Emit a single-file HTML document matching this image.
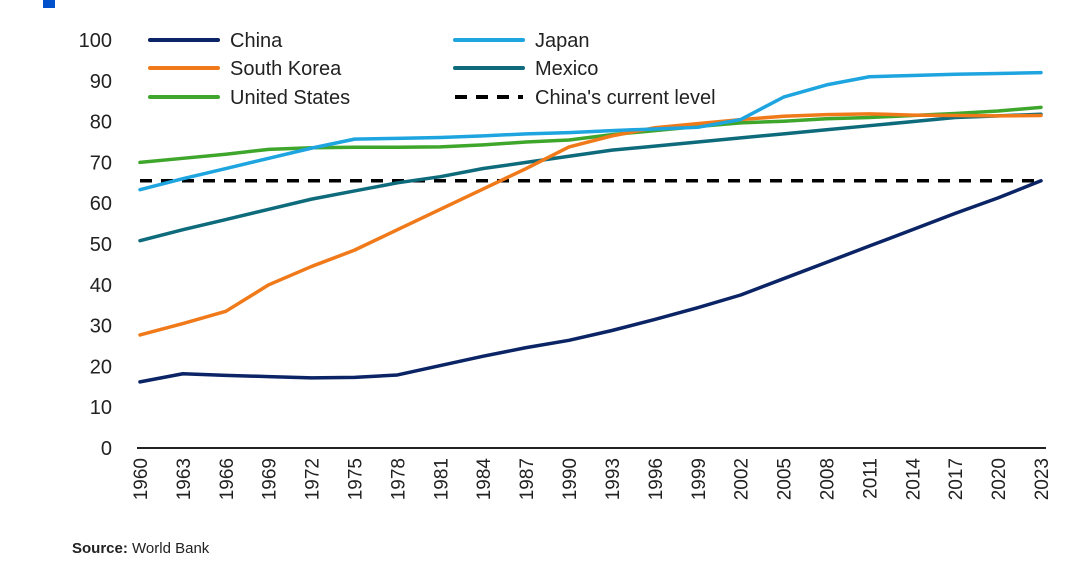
<!DOCTYPE html>
<html><head><meta charset="utf-8"><style>
body{margin:0;background:#fff;width:1080px;height:560px;overflow:hidden;font-family:"Liberation Sans",sans-serif}
svg text{font-family:"Liberation Sans",sans-serif;fill:#222}
</style></head><body>
<svg id="c" width="1080" height="560">
<rect x="43" y="0" width="12" height="8" fill="#0052cc"/>
<text x="72" y="553" font-size="15"><tspan font-weight="bold">Source:</tspan> World Bank</text>
</svg>
<script>
const years=[1960,1963,1966,1969,1972,1975,1978,1981,1984,1987,1990,1993,1996,1999,2002,2005,2008,2011,2014,2017,2020,2023];
const china=[16.2,18.2,17.8,17.5,17.2,17.3,17.9,20.2,22.5,24.6,26.4,28.8,31.5,34.4,37.5,41.5,45.5,49.5,53.5,57.5,61.3,65.5];
const japan=[63.3,66,68.5,71,73.5,75.7,75.9,76.1,76.5,77,77.3,77.8,78.2,78.6,80.5,86,89,91,91.3,91.6,91.8,92];
const korea=[27.7,30.5,33.5,40,44.5,48.5,53.5,58.5,63.5,68.5,73.8,76.5,78.5,79.5,80.5,81.3,81.7,81.9,81.6,81.5,81.4,81.5];
const mexico=[50.8,53.5,56,58.5,61,63,65,66.5,68.5,70,71.5,73,74,75,76,77,78,79,80,81,81.4,81.8];
const usa=[70,71,72,73.2,73.6,73.7,73.7,73.8,74.3,75,75.5,76.8,77.8,78.8,79.7,80.1,80.7,81,81.5,82,82.6,83.5];
const chinaCurrent=[65.5];
const yTicks=[0,10,20,30,40,50,60,70,80,90,100];
const xLabels=[1960,1963,1966,1969,1972,1975,1978,1981,1984,1987,1990,1993,1996,1999,2002,2005,2008,2011,2014,2017,2020,2023];
const svg=document.getElementById('c'),NS='http://www.w3.org/2000/svg';
const X=y=>140+(y-1960)*(901/63), Y=v=>448-v*4.08;
function mk(t,a){const e=document.createElementNS(NS,t);for(const k in a)e.setAttribute(k,a[k]);svg.appendChild(e);return e;}
yTicks.forEach(v=>{const t=mk('text',{x:112,y:Y(v)+7,'font-size':20,'text-anchor':'end'});t.textContent=v;

});
xLabels.forEach(y=>{const t=mk('text',{x:0,y:0,'font-size':19,'text-anchor':'end',transform:`translate(${X(y)+7},458) rotate(-90)`});t.textContent=y;

});
const ax=mk('line',{x1:137,x2:1046,y1:448,y2:448,stroke:'#222','stroke-width':2});


const dl=mk('line',{x1:X(1960),x2:X(2023),y1:Y(chinaCurrent[0]),y2:Y(chinaCurrent[0]),stroke:'#000','stroke-width':3.5,'stroke-dasharray':'12 9'});


const series=[['united-states',usa,'#3fa62c'],['mexico',mexico,'#0e6b7c'],['south-korea',korea,'#f07a1a'],['japan',japan,'#1ea5e0'],['china',china,'#0b2466']];
series.forEach(([n,d,c])=>{const p=mk('polyline',{points:d.map((v,i)=>X(years[i])+','+Y(v)).join(' '),fill:'none',stroke:c,'stroke-width':3.5,'stroke-linejoin':'round','stroke-linecap':'round'});

});
const leg=[['China','#0b2466',150,40,0],['South Korea','#f07a1a',150,68,0],['United States','#3fa62c',150,97,0],['Japan','#1ea5e0',455,40,0],['Mexico','#0e6b7c',455,68,0],["China's current level",'#000',455,97,1]];
leg.forEach(([t,c,x,y,d])=>{const l=mk('line',{x1:x,x2:x+68,y1:y,y2:y,stroke:c,'stroke-width':4,'stroke-linecap':d?'butt':'round','stroke-dasharray':d?'12 9':'none'});


const tx=mk('text',{x:x+80,y:y+7,'font-size':20});tx.textContent=t;

});
</script>
</body></html>
